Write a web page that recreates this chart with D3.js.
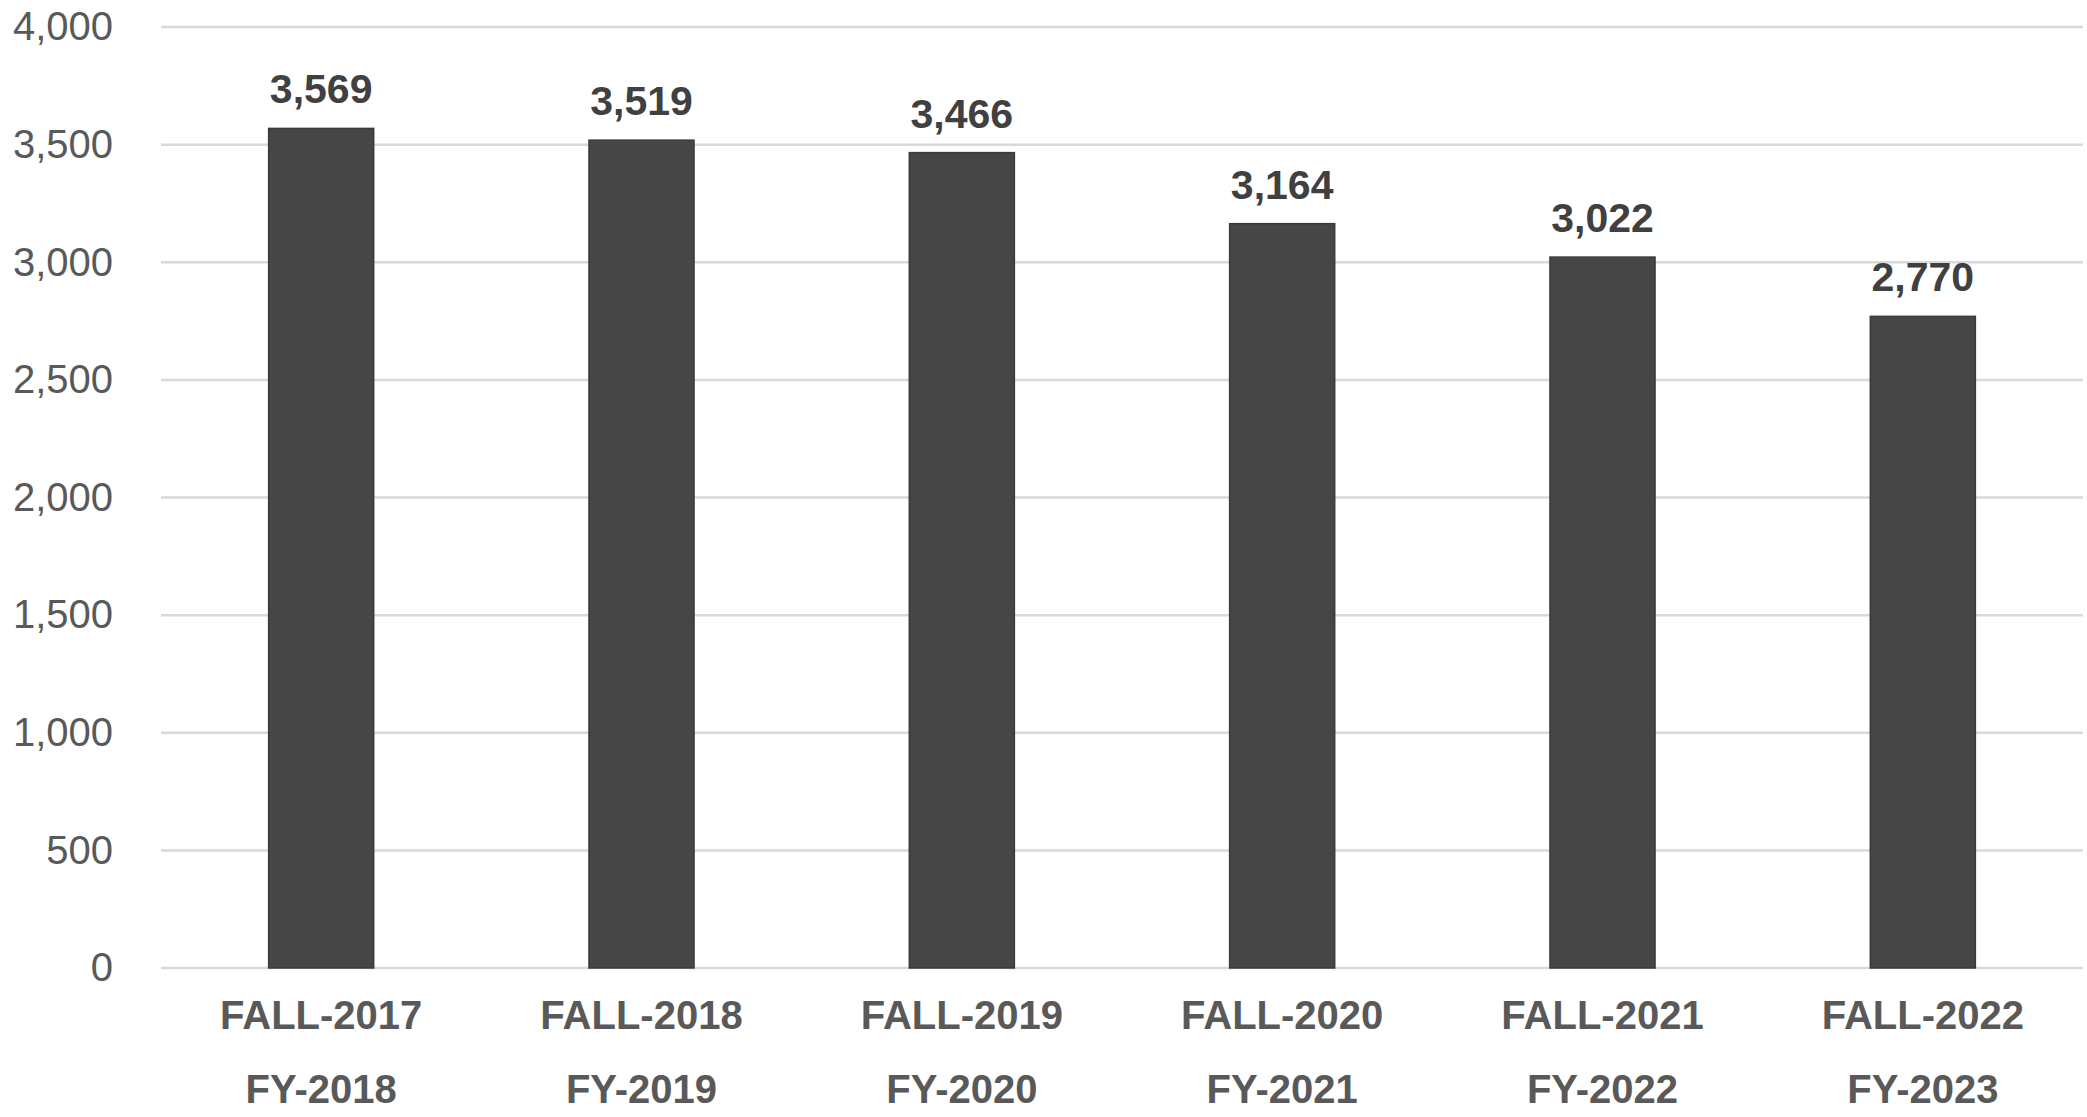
<!DOCTYPE html>
<html>
<head>
<meta charset="utf-8">
<script src="https://cdn.jsdelivr.net/npm/d3@7"></script>
<style>
  html, body { margin: 0; padding: 0; background: #fff; }
  svg { display: block; }
</style>
</head>
<body>
<svg id="chart" width="2087" height="1117"></svg>
<script>
// Enrollment headcount by fall term / fiscal year
const fallTerms = ["FALL-2017", "FALL-2018", "FALL-2019", "FALL-2020", "FALL-2021", "FALL-2022"];
const fiscalYears = ["FY-2018", "FY-2019", "FY-2020", "FY-2021", "FY-2022", "FY-2023"];
const enrollment = [3569, 3519, 3466, 3164, 3022, 2770];
const yTicks = [0, 500, 1000, 1500, 2000, 2500, 3000, 3500, 4000];

const width = 2087, height = 1117;
const margin = { top: 27, right: 4, bottom: 149, left: 161 };
const fontFamily = "'Liberation Sans', Arial, Helvetica, sans-serif";

const svg = d3.select("#chart");

const x = d3.scaleBand()
  .domain(fallTerms)
  .range([margin.left, width - margin.right])
  .paddingInner(0.672)
  .paddingOuter(0.336);

const y = d3.scaleLinear()
  .domain([0, 4000])
  .range([height - margin.bottom, margin.top]);

// Horizontal gridlines
svg.append("g")
  .selectAll("line")
  .data(yTicks)
  .join("line")
  .attr("x1", margin.left)
  .attr("x2", width - margin.right)
  .attr("y1", d => y(d))
  .attr("y2", d => y(d))
  .attr("stroke", "#d9d9d9")
  .attr("stroke-width", 2.5);

// Y axis tick labels
const yAxis = d3.axisLeft(y)
  .tickValues(yTicks)
  .tickFormat(d3.format(","))
  .tickSize(0)
  .tickPadding(48);

const yG = svg.append("g")
  .attr("transform", `translate(${margin.left},0)`)
  .call(yAxis);
yG.select(".domain").remove();
yG.selectAll("text")
  .attr("font-family", fontFamily)
  .attr("font-size", 40)
  .attr("fill", "#595959");

// Bars
const data = fallTerms.map((t, i) => ({ term: t, fy: fiscalYears[i], value: enrollment[i] }));

svg.append("g")
  .selectAll("rect")
  .data(data)
  .join("rect")
  .attr("x", d => x(d.term))
  .attr("width", x.bandwidth())
  .attr("y", d => y(d.value))
  .attr("height", d => y(0) - y(d.value))
  .attr("fill", "#464646")
  .attr("stroke", "#3a3a3a")
  .attr("stroke-width", 1.5);

// Value labels above bars
svg.append("g")
  .selectAll("text")
  .data(data)
  .join("text")
  .attr("x", d => x(d.term) + x.bandwidth() / 2)
  .attr("y", d => y(d.value) - 25)
  .attr("text-anchor", "middle")
  .attr("font-family", fontFamily)
  .attr("font-size", 41)
  .attr("font-weight", "bold")
  .attr("fill", "#404040")
  .text(d => d3.format(",")(d.value));

// Two-line category labels
const xLabels = svg.append("g")
  .selectAll("text")
  .data(data)
  .join("text")
  .attr("text-anchor", "middle")
  .attr("font-family", fontFamily)
  .attr("font-size", 40)
  .attr("font-weight", "bold")
  .attr("fill", "#595959");

xLabels.append("tspan")
  .attr("x", d => x(d.term) + x.bandwidth() / 2)
  .attr("y", y(0) + 61)
  .text(d => d.term);

xLabels.append("tspan")
  .attr("x", d => x(d.term) + x.bandwidth() / 2)
  .attr("y", y(0) + 135)
  .text(d => d.fy);
</script>
</body>
</html>
